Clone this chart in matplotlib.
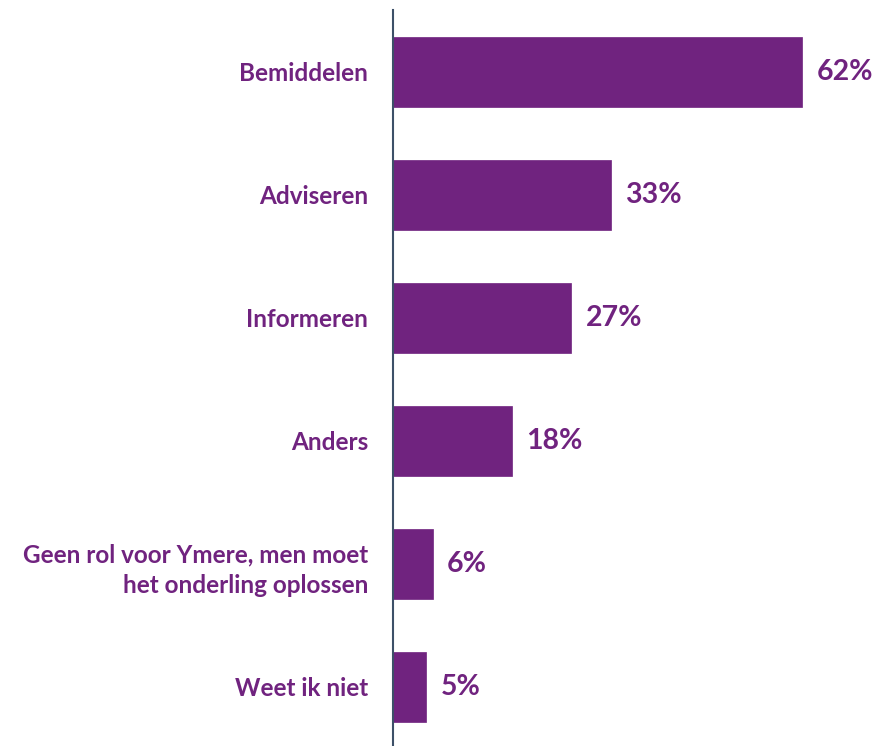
import matplotlib
matplotlib.use('Agg')
import matplotlib.pyplot as plt

# survey answers, percentages as shown on the bars
categories = [
    'Bemiddelen',
    'Adviseren',
    'Informeren',
    'Anders',
    'Geen rol voor Ymere, men moet\nhet onderling oplossen',
    'Weet ik niet',
]
values = [62, 33, 27, 18, 6, 5]

PURPLE = '#70237f'
AXIS = '#3d5068'

plt.rcParams['font.family'] = ['Lato', 'DejaVu Sans']

fig = plt.figure(figsize=(8.77, 7.46), dpi=100)
ax = fig.add_axes([393 / 877, 0, 484 / 877, 736 / 746])

pos = list(range(len(categories)))
ax.barh(pos, values, height=0.57, color=PURPLE, edgecolor=PURPLE, linewidth=0.5)

for p, v in zip(pos, values):
    ax.text(v + 2.2, p, f'{v}%', va='center', ha='left',
            fontsize=20.5, fontweight='bold', color=PURPLE)

ax.set_yticks(pos)
ax.set_yticklabels(categories, fontsize=17.5, fontweight='bold', color=PURPLE,
                   linespacing=1.42)
ax.tick_params(axis='y', length=0, pad=18)
ax.set_xticks([])
ax.set_xlim(0, 62 * 484 / 409)
ax.set_ylim(5.48, -0.504)

for side in ['top', 'right', 'bottom']:
    ax.spines[side].set_visible(False)
ax.spines['left'].set_color(AXIS)
ax.spines['left'].set_linewidth(1.5)

fig.savefig('out.png', dpi=100)
